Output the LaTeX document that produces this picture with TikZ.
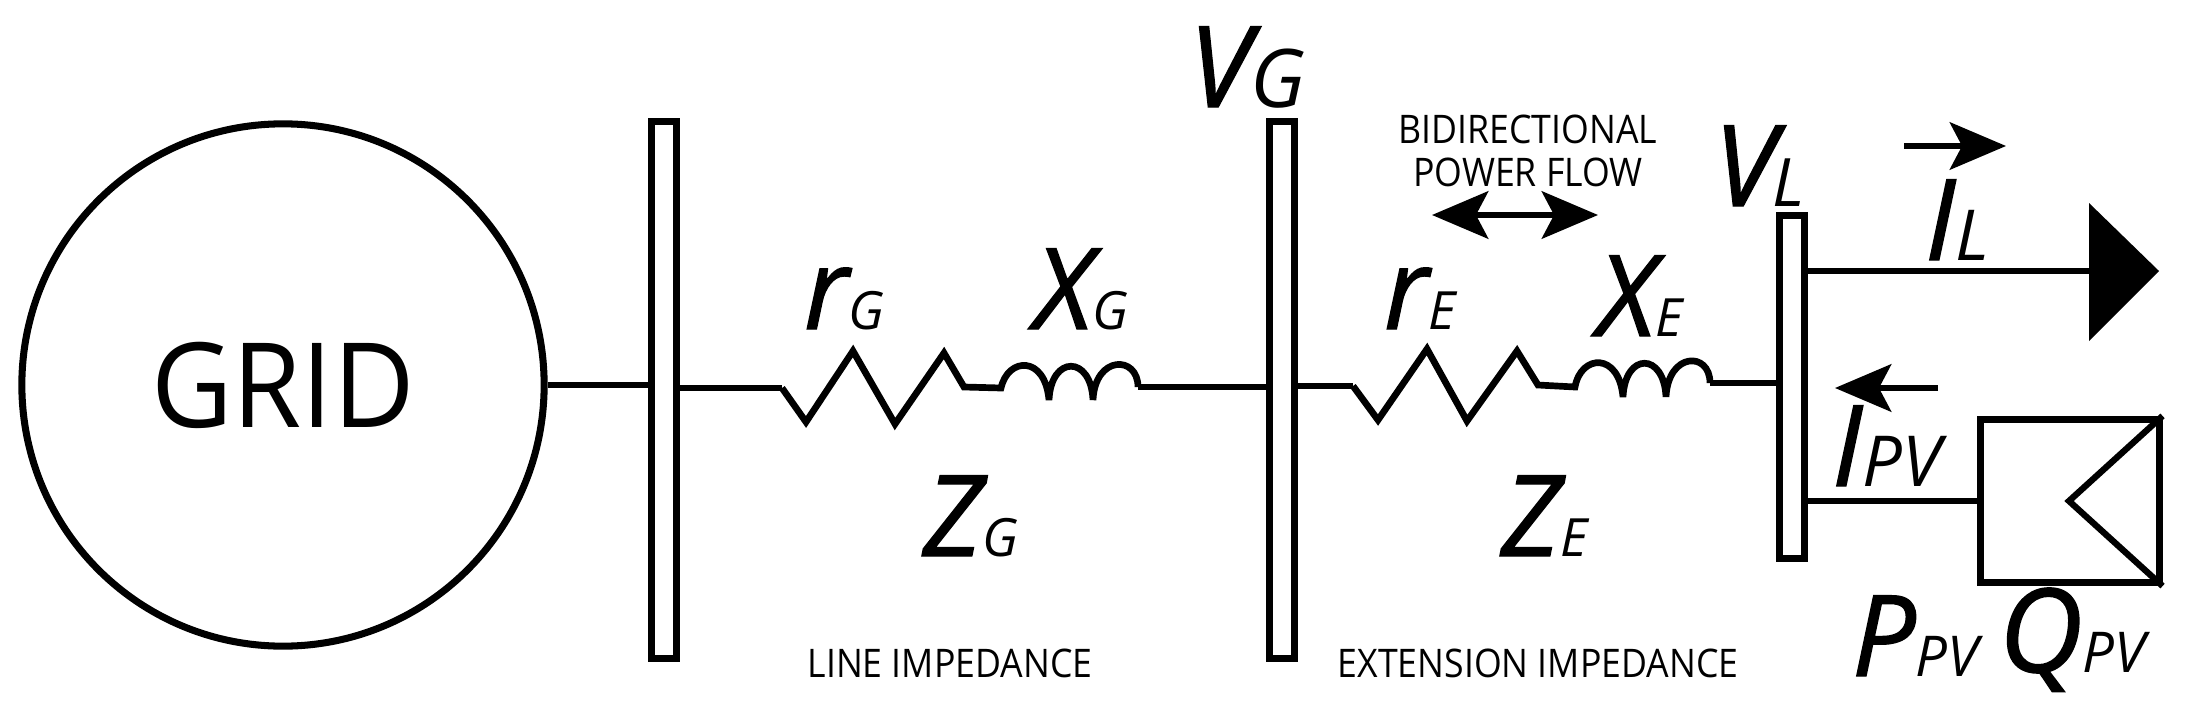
\documentclass[tikz,border=0pt]{standalone}
\usepackage{fontspec}
\setmainfont{Open Sans}
\newfontfamily\symfont[FakeBold=1.2]{Open Sans}
\newfontfamily\gridfont[FakeStretch=0.95]{Open Sans}
\newfontfamily\capfont[FakeStretch=0.905]{Open Sans}
\usetikzlibrary{arrows.meta}
\tikzset{
  wire/.style={line width=1.9pt},
  busbar/.style={draw,fill=white,line width=2pt,inner sep=0pt,minimum width=0.25cm},
  flowtip/.style={-{Stealth[length=16pt,width=13.5pt,inset=3.5pt]},line width=1.6pt},
  symb/.style={inner sep=0pt,outer sep=0pt,anchor=base west},
  caption/.style={inner sep=0pt,font=\capfont\fontsize{11.2}{12.3}\selectfont,align=center}
}
% big letter with small index
\newcommand{\symb}[4]{{\symfont\fontsize{#1}{#1}\selectfont\itshape #2}{\fontsize{#3}{#3}\selectfont\itshape #4}}
\begin{document}
\begin{tikzpicture}[x=0.01cm,y=-0.01cm]
	\useasboundingbox (0,0) rectangle (2187,709);

	% Grid and bus bars
	\node[draw,circle,line width=2pt,inner sep=0pt,minimum size=5.22cm,font=\gridfont\fontsize{33.5}{36}\selectfont] (grid) at (283,385) {GRID};
	\node[busbar,minimum height=5.37cm] (busA) at (664,390) {};
	\node[busbar,minimum height=5.37cm] (busB) at (1282,390) {};
	\node[busbar,minimum height=3.42cm] (busC) at (1792,387) {};

	\draw[wire] (grid.east) -- (grid.east -| busA.west);
	\coordinate (rGin) at (782,388);
	\coordinate (lGin) at (1001,388);
	\coordinate (lGout) at (1138,387);
	\coordinate (rEin) at (1353,386);
	\coordinate (lEin) at (1575,387);
	\coordinate (lEout) at (1710,383);
	\draw[wire] (busA.east |- rGin) -- (rGin);
	\draw[wire] (lGout) -- (lGout -| busB.west);
	\draw[wire] (busB.east |- rEin) -- (rEin);
	\draw[wire] (lEout) -- (lEout -| busC.west);

	% Line impedance
	\draw[wire,line join=miter] (rGin) -- (806,422) -- (853,351) -- (895,424) -- (944,353) -- (964,387) -- (lGin)
		.. controls (1008,357) and (1045,355) .. (1049,400)
		.. controls (1051,355) and (1091,355) .. (1093,400)
		.. controls (1095,355) and (1138,355) .. (lGout);

	% Extension impedance
	\draw[wire,line join=miter] (rEin) -- (1378,420) -- (1427,349) -- (1467,421) -- (1517,351) -- (1538,385) -- (lEin)
		.. controls (1581,354) and (1619,352) .. (1623,397)
		.. controls (1625,352) and (1664,352) .. (1666,397)
		.. controls (1668,352) and (1710,351) .. (lEout);

	% Load
	\coordinate (loadIn) at (2089,271);
	\draw[wire] (busC.east |- loadIn) -- (loadIn);
	\fill (2089,203) -- (2159,271) -- (2089,341) -- cycle;

	% PV panel
	\node[draw,line width=2pt,inner sep=0pt,minimum width=1.78cm,minimum height=1.63cm] (pv) at (2070,501) {};
	\draw[wire] (busC.east |- pv.west) -- (pv.west);
	\draw[line width=1.8pt] (pv.north east) -- (2069,501) -- (pv.south east);

	% Flow arrows
	\coordinate (flowL) at (1432,215);
	\coordinate (flowR) at (1598,215);
	\draw[{Stealth[length=16pt,width=13.5pt,inset=3.5pt]}-{Stealth[length=16pt,width=13.5pt,inset=3.5pt]},line width=1.6pt] (flowL) -- (flowR);
	\coordinate (iLa) at (1904,146);
	\coordinate (iLb) at (2006,146);
	\draw[flowtip] (iLa) -- (iLb);
	\coordinate (iPVa) at (1938,388);
	\coordinate (iPVb) at (1835,388);
	\draw[flowtip] (iPVa) -- (iPVb);

	% Labels
	\node[symb] (vG) at (1189,107) {\symb{32}{V}{23}{G}};
	\node[symb] (vL) at (1714,206) {\symb{32}{V}{19}{\kern-1pt L}};
	\node[symb] (iL) at (1925,260) {\symb{32}{I}{20}{L}};
	\node[symb] (iPV) at (1832,486) {\symb{32}{I}{20}{PV}};
	\node[symb] (pPV) at (1852,676) {\symb{32}{P}{16}{PV}};
	\node[symb] (qPV) at (1999,672) {\symb{33}{Q}{16}{PV}};
	\node[symb] (rG) at (804,329) {\symb{32}{r}{15}{G}};
	\node[symb] (xG) at (1034,329) {\symb{32}{X}{15}{G}};
	\node[symb] (rE) at (1384,329) {\symb{32}{r}{15}{E}};
	\node[symb] (xE) at (1597,336) {\symb{32}{X}{15}{E}};
	\node[symb] (zG) at (923,556) {\symb{32}{Z}{15}{G}};
	\node[symb] (zE) at (1501,556) {\symb{32}{Z}{15}{E}};

	\node[caption] (bidir) at (1528,151) {BIDIRECTIONAL\\POWER FLOW};
	\node[caption] (lineZ) at (950,663) {LINE IMPEDANCE};
	\node[caption] (extZ) at (1538,663) {EXTENSION IMPEDANCE};
\end{tikzpicture}
\end{document}
